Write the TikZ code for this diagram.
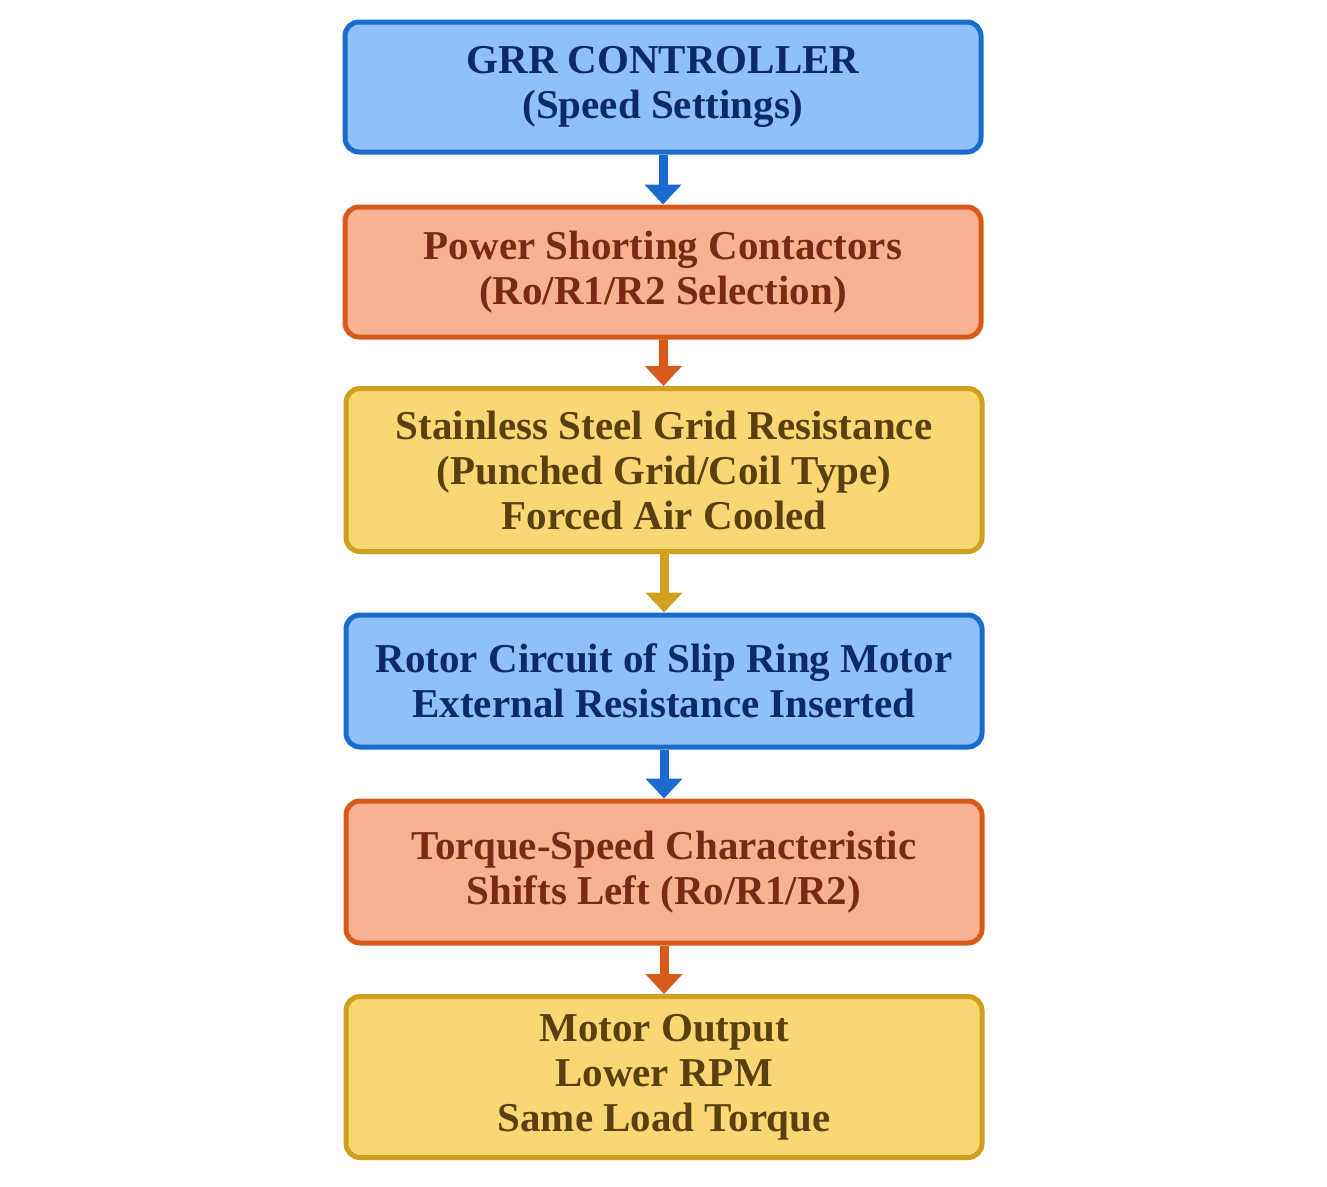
\documentclass[tikz,border=0pt]{standalone}
\usepackage{fontspec}
\setmainfont{Liberation Serif}
\usetikzlibrary{arrows.meta}
\definecolor{bf}{HTML}{90C0F8}\definecolor{bd}{HTML}{1A6BD0}\definecolor{bt}{HTML}{0A2A6A}
\definecolor{of}{HTML}{F8B193}\definecolor{od}{HTML}{D85A1A}\definecolor{ot}{HTML}{7A2A10}
\definecolor{yf}{HTML}{F9D874}\definecolor{yd}{HTML}{D0A020}\definecolor{yt}{HTML}{5A4010}
\begin{document}
\begin{tikzpicture}[x=1pt,y=-1pt,
 box/.style={draw,line width=5pt,rounded corners=14pt,minimum width=636pt,align=center,
   font=\fontsize{41}{45}\selectfont\bfseries,inner sep=0pt},
 blue/.style={box,fill=bf,draw=bd,text=bt},
 orange/.style={box,fill=of,draw=od,text=ot},
 yellow/.style={box,fill=yf,draw=yd,text=yt},
 arr/.style={line width=9pt,-{Triangle[length=20pt,width=36pt]}}]
\useasboundingbox (0,0) rectangle (1327,1186);
\node[blue,minimum height=130pt] (a) at (663,87) {GRR CONTROLLER\\(Speed Settings)};
\node[orange,minimum height=130pt] (b) at (663,272) {Power Shorting Contactors\\(Ro/R1/R2 Selection)};
\node[yellow,minimum height=163pt] (c) at (664,470) {Stainless Steel Grid Resistance\\(Punched Grid/Coil Type)\\Forced Air Cooled};
\node[blue,minimum height=132pt] (d) at (664,681) {Rotor Circuit of Slip Ring Motor\\External Resistance Inserted};
\node[orange,minimum height=142pt] (e) at (664,872) {Torque-Speed Characteristic\\Shifts Left (Ro/R1/R2)};
\node[yellow,minimum height=161pt] (f) at (664,1077) {Motor Output\\Lower RPM\\Same Load Torque};
\draw[arr,bd] (a) -- (b);
\draw[arr,od] (b) -- (c);
\draw[arr,yd] (c) -- (d);
\draw[arr,bd] (d) -- (e);
\draw[arr,od] (e) -- (f);
\end{tikzpicture}
\end{document}
